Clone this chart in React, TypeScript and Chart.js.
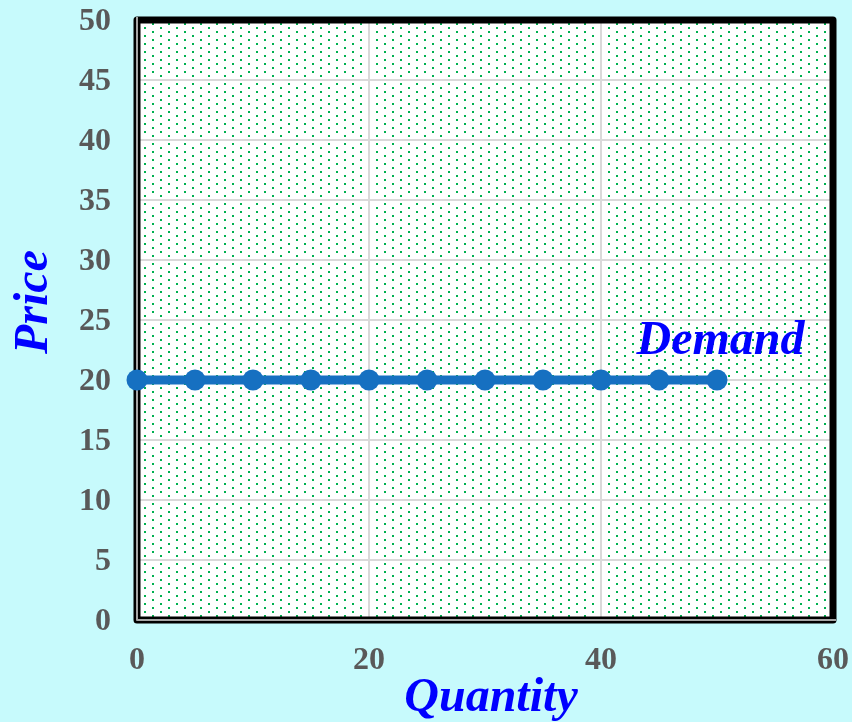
import React, { useEffect, useRef } from "react";
import { Chart, registerables } from "chart.js";

Chart.register(...registerables);

// Demand schedule: quantity and price pairs
const quantities = [0, 5, 10, 15, 20, 25, 30, 35, 40, 45, 50];
const prices = [20, 20, 20, 20, 20, 20, 20, 20, 20, 20, 20];

const seriesLabel = "Demand";
const xTitle = "Quantity";
const yTitle = "Price";

const xMin = 0;
const xMax = 60;
const xStep = 20;
const yMin = 0;
const yMax = 50;
const yStep = 5;

const PAGE_BG = "#C7FAFC";
const LINE_COLOR = "#1670C1";
const TITLE_COLOR = "#0000FF";
const TICK_COLOR = "#595959";
const SERIF = "'Liberation Serif', 'Times New Roman', serif";

// Plot-area fill: white with a staggered grid of small green dots
function makeDotPattern(ctx: CanvasRenderingContext2D): CanvasPattern | string {
  const tile = document.createElement("canvas");
  tile.width = 16;
  tile.height = 8;
  const t = tile.getContext("2d");
  if (!t) return "#ffffff";
  t.fillStyle = "#ffffff";
  t.fillRect(0, 0, 16, 8);
  t.fillStyle = "#00B050";
  t.fillRect(0, 3, 2, 2);
  t.fillRect(8, 7, 2, 1);
  t.fillRect(8, 0, 2, 1);
  return ctx.createPattern(tile, "repeat") || "#ffffff";
}

const plotBackground = {
  id: "plotBackground",
  beforeDraw(chart: any) {
    const { ctx, chartArea } = chart;
    const { left, top, right, bottom } = chartArea;
    ctx.save();
    ctx.fillStyle = makeDotPattern(ctx);
    ctx.fillRect(left, top, right - left, bottom - top);
    ctx.restore();
  },
};

// Heavy black frame with a thin grey stripe along the left and bottom edges
const plotFrame = {
  id: "plotFrame",
  beforeDatasetsDraw(chart: any) {
    const { ctx, chartArea } = chart;
    const { left, top, right, bottom } = chartArea;
    ctx.save();
    ctx.lineJoin = "round";
    ctx.strokeStyle = "#000000";
    ctx.lineWidth = 7;
    ctx.strokeRect(left, top, right - left, bottom - top);
    ctx.strokeStyle = "#A6A6A6";
    ctx.lineWidth = 2;
    ctx.beginPath();
    ctx.moveTo(left, top - 3);
    ctx.lineTo(left, bottom);
    ctx.lineTo(right + 3, bottom);
    ctx.stroke();
    ctx.restore();
  },
};

// Axis titles and the series label
const chartTexts = {
  id: "chartTexts",
  afterDraw(chart: any) {
    const { ctx, chartArea, scales } = chart;
    ctx.save();
    ctx.fillStyle = TITLE_COLOR;
    ctx.font = `italic bold 48px ${SERIF}`;
    ctx.textAlign = "center";
    ctx.textBaseline = "alphabetic";

    ctx.fillText(xTitle, (chartArea.left + chartArea.right) / 2 + 6, 711);

    ctx.save();
    ctx.translate(47, (chartArea.top + chartArea.bottom) / 2 - 18);
    ctx.rotate(-Math.PI / 2);
    ctx.fillText(yTitle, 0, 0);
    ctx.restore();

    const lx = scales.x.getPixelForValue(50.3);
    const ly = scales.y.getPixelForValue(20);
    ctx.fillText(seriesLabel, lx, ly - 26);
    ctx.restore();
  },
};

function clearScalePadding(scale: any) {
  scale.paddingLeft = 0;
  scale.paddingRight = 0;
  scale.paddingTop = 0;
  scale.paddingBottom = 0;
}

export default function App() {
  const canvasRef = useRef<HTMLCanvasElement | null>(null);

  useEffect(() => {
    const canvas = canvasRef.current;
    if (!canvas) return;

    const chart = new Chart(canvas, {
      type: "line",
      data: {
        datasets: [
          {
            label: seriesLabel,
            data: quantities.map((q, i) => ({ x: q, y: prices[i] })),
            borderColor: LINE_COLOR,
            backgroundColor: LINE_COLOR,
            borderWidth: 9,
            pointRadius: 10.5,
            pointHoverRadius: 10.5,
            pointBorderWidth: 0,
            clip: false as any,
          },
        ],
      },
      options: {
        responsive: false,
        animation: false,
        devicePixelRatio: 1,
        layout: { padding: { top: 20, right: 19, left: 0, bottom: 0 } },
        plugins: {
          legend: { display: false },
          tooltip: { enabled: false },
        },
        scales: {
          x: {
            type: "linear",
            min: xMin,
            max: xMax,
            border: { display: false },
            grid: { color: "#D9D9D9", lineWidth: 2, drawTicks: false },
            ticks: {
              stepSize: xStep,
              padding: 22,
              color: TICK_COLOR,
              font: { family: SERIF, size: 32, weight: "bold" },
              maxRotation: 0,
            },
            afterFit(scale: any) {
              scale.height = 102;
              clearScalePadding(scale);
            },
          },
          y: {
            type: "linear",
            min: yMin,
            max: yMax,
            border: { display: false },
            grid: { color: "#D9D9D9", lineWidth: 2, drawTicks: false },
            ticks: {
              stepSize: yStep,
              padding: 26,
              labelOffset: 2,
              color: TICK_COLOR,
              font: { family: SERIF, size: 32, weight: "bold" },
            },
            afterFit(scale: any) {
              scale.width = 137;
              clearScalePadding(scale);
            },
          },
        },
      },
      plugins: [plotBackground, plotFrame, chartTexts],
    });

    return () => chart.destroy();
  }, []);

  return (
    <div
      style={{
        position: "fixed",
        left: 0,
        top: 0,
        width: 852,
        height: 722,
        background: PAGE_BG,
      }}
    >
      <canvas ref={canvasRef} width={852} height={722} style={{ display: "block" }} />
    </div>
  );
}
